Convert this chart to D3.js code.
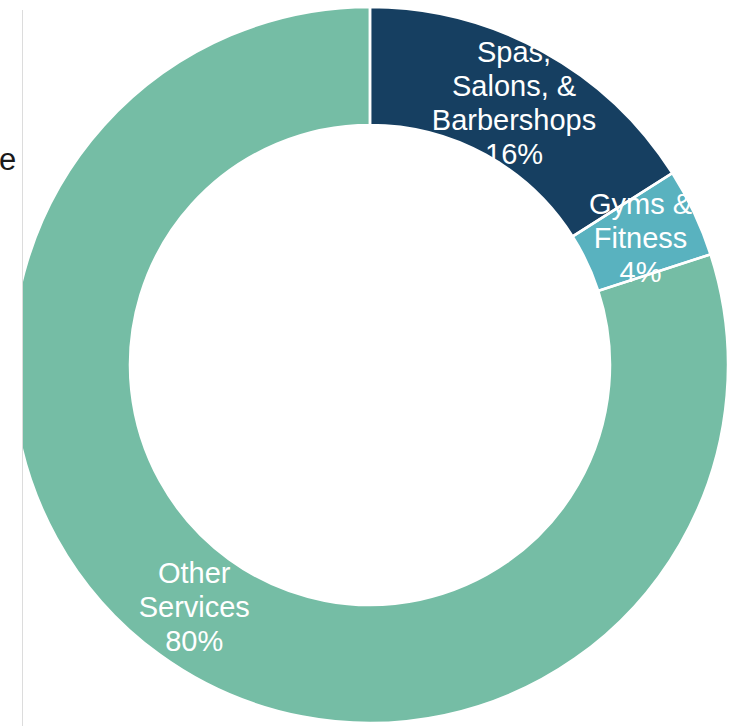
<!DOCTYPE html>
<html>
<head>
<meta charset="utf-8">
<script src="https://cdn.jsdelivr.net/npm/d3@7"></script>
<style>
  html, body { margin: 0; padding: 0; background: #fff; }
  svg { display: block; }
</style>
</head>
<body>
<script>
// Share of service businesses by type
const categories = ["Spas, Salons, & Barbershops", "Gyms & Fitness", "Other Services"];
const shares = [16, 4, 80];
const labelLines = [["Spas,", "Salons, &", "Barbershops"], ["Gyms &", "Fitness"], ["Other", "Services"]];
const colors = ["#163f61", "#59b2bf", "#75bda5"];

const W = 743, H = 726;
const cx = 370, cy = 365;
const outerR = 358, innerR = 240;
const fontSize = 29, lineH = 34;

const svg = d3.select("body").append("svg")
  .attr("width", W).attr("height", H);

const defs = svg.append("defs");

// panel clip: everything right of the divider
defs.append("clipPath").attr("id", "panel")
  .append("rect").attr("x", 23).attr("y", 0).attr("width", W - 23).attr("height", H);

// ring clip so labels never spill outside the donut
const ringArc = d3.arc().innerRadius(innerR).outerRadius(outerR);
defs.append("clipPath").attr("id", "ring")
  .append("path")
  .attr("transform", `translate(${cx},${cy})`)
  .attr("d", ringArc({ startAngle: 0, endAngle: 2 * Math.PI }));

// stray text from the neighbouring panel
svg.append("text")
  .attr("x", -1).attr("y", 170)
  .attr("font-family", "Liberation Sans, Arial, sans-serif")
  .attr("font-size", 31)
  .attr("fill", "#1a1a1a")
  .text("e");

// divider line
svg.append("line")
  .attr("x1", 22.5).attr("x2", 22.5)
  .attr("y1", 10).attr("y2", H)
  .attr("stroke", "#dcdcdc").attr("stroke-width", 1);

const data = categories.map((c, i) => ({ name: c, value: shares[i], lines: labelLines[i], color: colors[i] }));

const pie = d3.pie().sort(null).value(d => d.value).startAngle(0).endAngle(2 * Math.PI);
const arcs = pie(data);
const arc = d3.arc().innerRadius(innerR).outerRadius(outerR);
const labelArc = d3.arc().innerRadius(innerR).outerRadius(outerR);

const panel = svg.append("g").attr("clip-path", "url(#panel)");
const chart = panel.append("g").attr("transform", `translate(${cx},${cy})`);

chart.selectAll("path.slice")
  .data(arcs)
  .join("path")
  .attr("class", "slice")
  .attr("d", arc)
  .attr("fill", d => d.data.color);

// labels, clipped to the ring
const labels = panel.append("g").attr("clip-path", "url(#ring)")
  .append("g").attr("transform", `translate(${cx},${cy})`);

arcs.forEach(a => {
  const [lx, ly] = labelArc.centroid(a);
  const lines = a.data.lines.concat([d3.format("d")(a.data.value) + "%"]);
  const n = lines.length;
  const t = labels.append("text")
    .attr("text-anchor", "middle")
    .attr("font-family", "Liberation Sans, Arial, sans-serif")
    .attr("font-size", fontSize)
    .attr("fill", "#ffffff");
  lines.forEach((s, i) => {
    t.append("tspan")
      .attr("x", lx)
      .attr("y", ly + (i - (n - 1) / 2) * lineH + 10.5)
      .text(s);
  });
});

// slice separators drawn over the labels
chart.selectAll("path.sep")
  .data(arcs)
  .join("path")
  .attr("class", "sep")
  .attr("d", arc)
  .attr("fill", "none")
  .attr("stroke", "#ffffff")
  .attr("stroke-width", 2.5)
  .attr("stroke-linejoin", "miter");
</script>
</body>
</html>
